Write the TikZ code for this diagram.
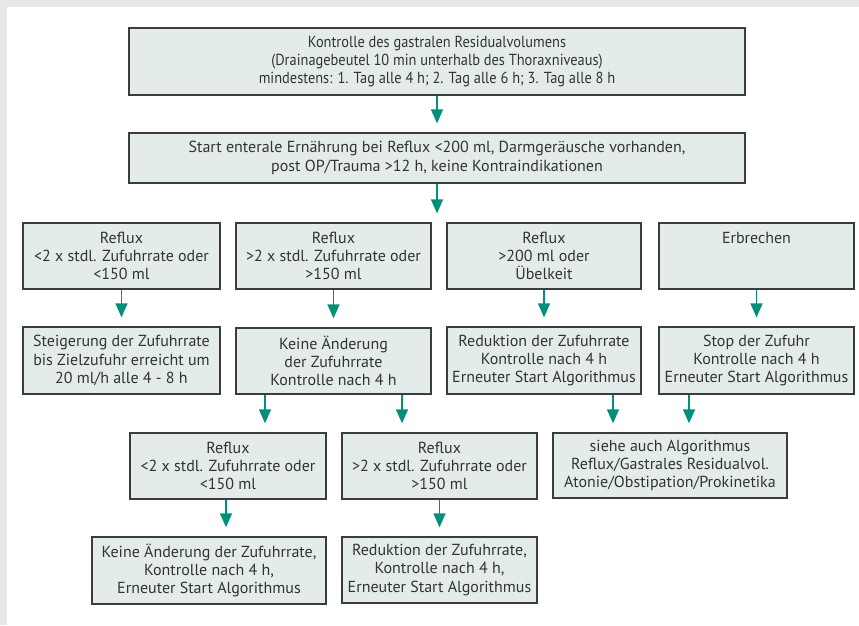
\documentclass[tikz,border=0pt]{standalone}
\usepackage{fontspec}
\setmainfont{PT Sans}
\usetikzlibrary{arrows.meta}
\definecolor{boxfill}{HTML}{E3ECEA}
\definecolor{boxline}{HTML}{3C3C3C}
\definecolor{arrteal}{HTML}{00917A}
\definecolor{framegray}{HTML}{E6E7E8}
\definecolor{txt}{HTML}{333333}
\begin{document}
\begin{tikzpicture}[x=1pt,y=-1pt,
  box/.style={draw=boxline, fill=boxfill, line width=1.3pt, align=center, text=txt,
    font=\fontsize{16}{18.3}\selectfont, inner sep=0pt},
  arr/.style={draw=arrteal, line width=1.4pt, -{Triangle[width=12pt,length=14pt]}, shorten >=9pt}]
\fill[framegray] (0,0) rectangle (859,625);
\fill[white] (7,7) rectangle (859,625);
\useasboundingbox (0,0) rectangle (859,625);

\node[box, minimum width=616pt, minimum height=67pt] (b1) at (437,61.5)
  {\addfontfeature{FakeStretch=0.9}Kontrolle des gastralen Residualvolumens\\\addfontfeature{FakeStretch=0.9}(Drainagebeutel 10 min unterhalb des Thoraxniveaus)\\\addfontfeature{FakeStretch=0.9}mindestens: 1. Tag alle 4 h; 2. Tag alle 6 h; 3. Tag alle 8 h};
\node[box, minimum width=616pt, minimum height=50pt] (b2) at (437,158)
  {Start enterale Ernährung bei Reflux <200 ml, Darmgeräusche vorhanden,\\post OP/Trauma >12 h, keine Kontraindikationen};

\node[box, minimum width=197pt, minimum height=66pt] (b3a) at (121.5,256)
  {Reflux\\<2 x stdl. Zufuhrrate oder\\<150 ml};
\node[box, minimum width=195pt, minimum height=66pt] (b3b) at (333.5,256)
  {Reflux\\>2 x stdl. Zufuhrrate oder\\>150 ml};
\node[box, minimum width=194pt, minimum height=66pt] (b3c) at (544,256)
  {Reflux\\>200 ml oder\\Übelkeit};
\node[box, minimum width=195pt, minimum height=66pt] (b3d) at (756.5,256)
  {Erbrechen\\\mbox{}\\\mbox{}};

\node[box, minimum width=197pt, minimum height=67pt] (b4a) at (121.5,360.5)
  {Steigerung der Zufuhrrate\\bis Zielzufuhr erreicht um\\20 ml/h alle 4 - 8 h};
\node[box, minimum width=195pt, minimum height=66pt] (b4b) at (333.5,361)
  {Keine Änderung\\der Zufuhrrate\\Kontrolle nach 4 h};
\node[box, minimum width=194pt, minimum height=67pt] (b4c) at (544,360.5)
  {Reduktion der Zufuhrrate\\Kontrolle nach 4 h\\Erneuter Start Algorithmus};
\node[box, minimum width=195pt, minimum height=67pt] (b4d) at (756.5,360.5)
  {Stop der Zufuhr\\Kontrolle nach 4 h\\Erneuter Start Algorithmus};

\node[box, minimum width=196pt, minimum height=66pt] (b5a) at (228,466)
  {Reflux\\<2 x stdl. Zufuhrrate oder\\<150 ml};
\node[box, minimum width=195pt, minimum height=66pt] (b5b) at (439.5,466)
  {Reflux\\>2 x stdl. Zufuhrrate oder\\>150 ml};
\node[box, minimum width=234pt, minimum height=65pt] (b5c) at (670,465.5)
  {siehe auch Algorithmus\\Reflux/Gastrales Residualvol.\\Atonie/Obstipation/Prokinetika};

\node[box, minimum width=234pt, minimum height=67pt] (b6a) at (209,570.5)
  {Keine Änderung der Zufuhrrate,\\Kontrolle nach 4 h,\\Erneuter Start Algorithmus};
\node[box, minimum width=195pt, minimum height=66pt] (b6b) at (439.5,570)
  {Reduktion der Zufuhrrate,\\Kontrolle nach 4 h,\\Erneuter Start Algorithmus};

\coordinate (xA) at (265,0);
\coordinate (xB) at (402,0);
\coordinate (xC) at (613,0);
\coordinate (xD) at (689,0);
\coordinate (xE) at (226,0);

\draw[arr] (b1.south) -- (b2.north);
\draw[arr] (b2.south) -- (b2.south |- b3a.north);
\draw[arr] (b3a.south) -- (b4a.north);
\draw[arr] (b3b.south) -- (b4b.north);
\draw[arr] (b3c.south) -- (b4c.north);
\draw[arr] (b3d.south) -- (b4d.north);
\draw[arr] (b4b.south -| xA) -- (b5a.north -| xA);
\draw[arr] (b4b.south -| xB) -- (b5b.north -| xB);
\draw[arr] (b4c.south -| xC) -- (b5c.north -| xC);
\draw[arr] (b4d.south -| xD) -- (b5c.north -| xD);
\draw[arr] (b5a.south -| xE) -- (b6a.north -| xE);
\draw[arr] (b5b.south) -- (b6b.north);
\end{tikzpicture}
\end{document}
